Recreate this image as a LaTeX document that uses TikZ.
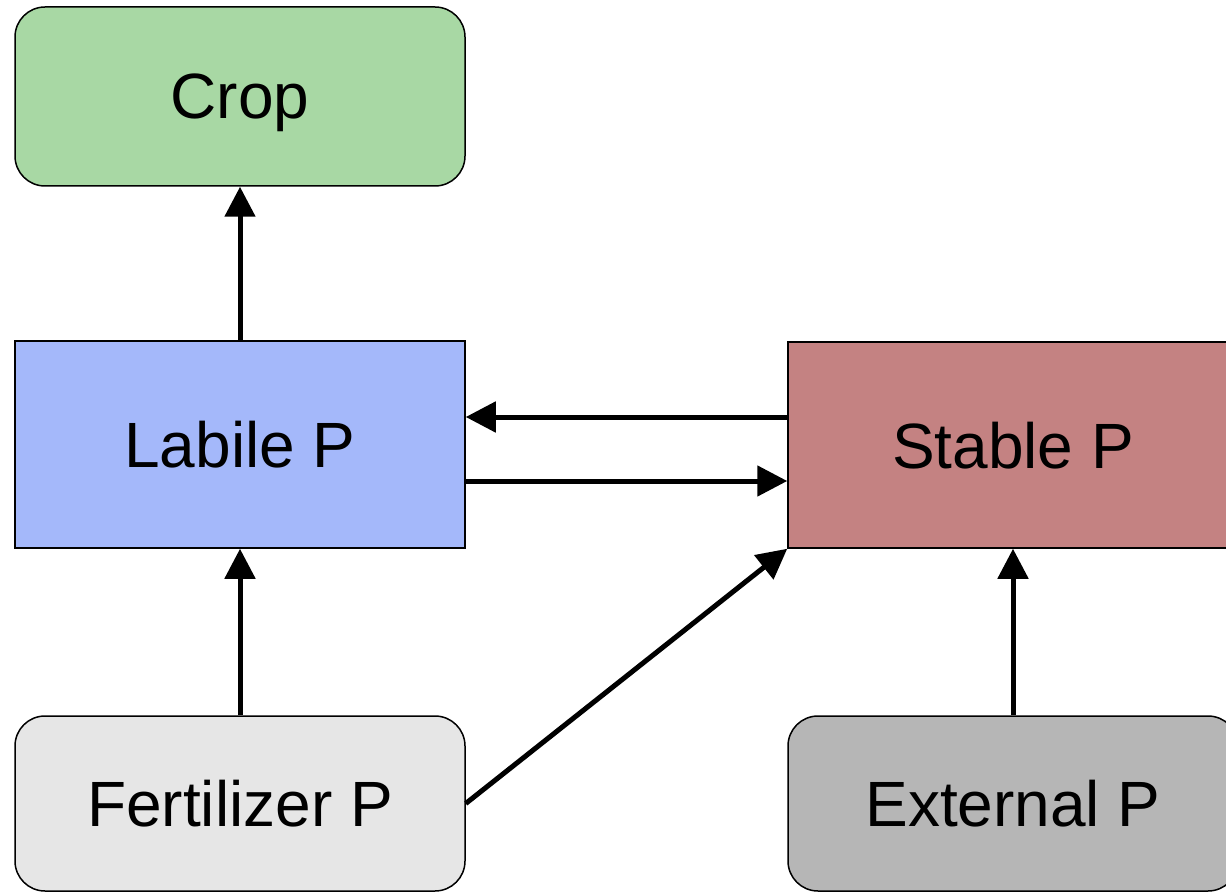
\documentclass[tikz,border=0pt]{standalone}
\usepackage{fontspec}
\setmainfont{Liberation Sans}
\usetikzlibrary{arrows.meta}
\definecolor{cropc}{RGB}{168,216,164}
\definecolor{labc}{RGB}{164,184,250}
\definecolor{stabc}{RGB}{196,130,130}
\definecolor{fertc}{RGB}{230,230,230}
\definecolor{extc}{RGB}{182,182,182}
\tikzset{
  box/.style={draw=black, line width=1.5pt, inner sep=0pt, text depth=0pt, font=\fontsize{64}{77}\selectfont},
  rbox/.style={box, rounded corners=30pt},
  flow/.style={line width=5pt, -{Triangle[length=30pt,width=30pt]}}
}
\begin{document}
\begin{tikzpicture}[x=1pt,y=-1pt]
\useasboundingbox (0,0) rectangle (1226,893);
\node[rbox, fill=cropc, minimum width=450pt, minimum height=179pt] (crop) at (240,96.5) {Crop};
\node[box, fill=labc, minimum width=450pt, minimum height=207pt] (labile) at (240,444.5) {Labile P};
\node[box, fill=stabc, minimum width=450pt, minimum height=206pt] (stable) at (1013,445) {Stable P};
\node[rbox, fill=fertc, minimum width=450pt, minimum height=175pt] (fert) at (240,803.5) {Fertilizer P};
\node[rbox, fill=extc, minimum width=450pt, minimum height=175pt] (ext) at (1013,803.5) {External P};
\coordinate (ya) at (0,417);
\coordinate (yb) at (0,481);
\draw[flow] (labile.north) -- (crop.south);
\draw[flow] (stable.west |- ya) -- (labile.east |- ya);
\draw[flow] (labile.east |- yb) -- (stable.west |- yb);
\draw[flow] (fert.north) -- (labile.south);
\draw[flow] (fert.east) -- (stable.south west);
\draw[flow] (ext.north) -- (stable.south);
\end{tikzpicture}
\end{document}
